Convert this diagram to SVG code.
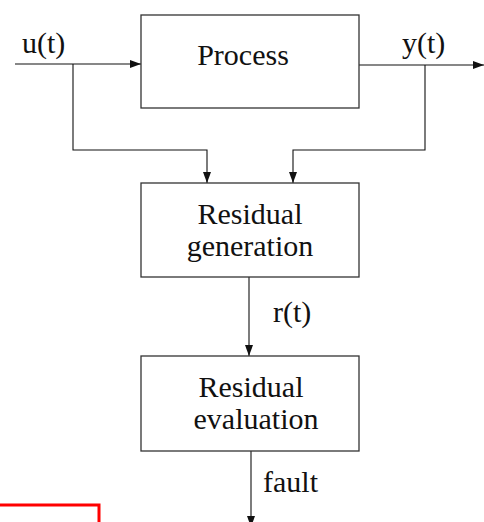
<svg xmlns="http://www.w3.org/2000/svg" width="484" height="522" viewBox="0 0 484 522">
<style>
.box{fill:#fff;stroke:#333;stroke-width:1.3}
.t{font-family:"Liberation Serif","Times New Roman",serif;font-size:30px;fill:#111}
.c{text-anchor:middle}
.ln{fill:none;stroke:#111;stroke-width:1.1}
</style>
<defs>
<marker id="ah" markerWidth="11" markerHeight="8" refX="11" refY="4" orient="auto" markerUnits="userSpaceOnUse">
<path d="M0,0 L11,4 L0,8 Z" fill="#111"/>
</marker>
</defs>
<rect width="484" height="522" fill="#fff"/>
<g id="connectors">
<path class="ln" d="M15,64 H141" marker-end="url(#ah)"/>
<path class="ln" d="M73,64 V150 H207 V183" marker-end="url(#ah)"/>
<path class="ln" d="M359,65 H484" marker-end="url(#ah)"/>
<path class="ln" d="M425,65 V150 H293 V183" marker-end="url(#ah)"/>
<path class="ln" d="M249,277 V356" marker-end="url(#ah)"/>
<path class="ln" d="M251,451 V527" marker-end="url(#ah)"/>
<text class="t" x="22" y="53">u(t)</text>
<text class="t" x="402" y="53">y(t)</text>
<text class="t" x="273" y="322">r(t)</text>
<text class="t" x="263" y="492">fault</text>
</g>
<g id="process">
<rect class="box" x="141" y="15" width="218" height="93"/>
<text class="t c" x="243" y="65">Process</text>
</g>
<g id="residual-generation">
<rect class="box" x="141" y="183" width="218" height="94"/>
<text class="t c" x="250" y="224">Residual</text>
<text class="t c" x="250" y="256">generation</text>
</g>
<g id="residual-evaluation">
<rect class="box" x="141" y="356" width="218" height="95"/>
<text class="t c" x="251" y="397">Residual</text>
<text class="t c" x="256" y="429">evaluation</text>
</g>
<path d="M0,505 H99 V525" fill="none" stroke="#f00" stroke-width="3"/>
</svg>
